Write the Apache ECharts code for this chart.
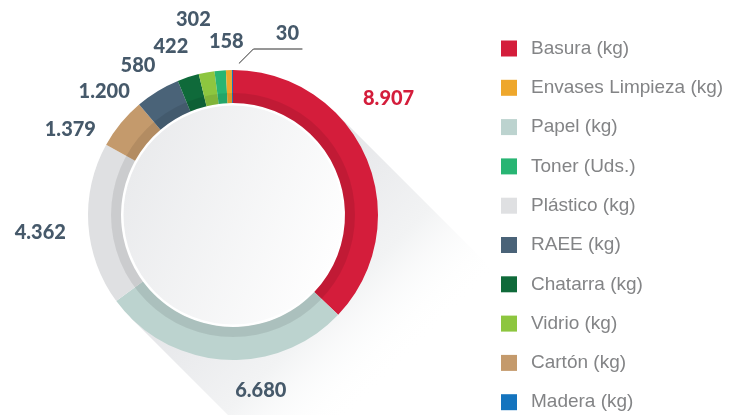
<!DOCTYPE html>
<html>
<head>
<meta charset="utf-8">
<script src="https://cdn.jsdelivr.net/npm/echarts@6/dist/echarts.min.js"></script>
<style>
  html, body { margin: 0; padding: 0; background: #ffffff; }
  #chart { width: 738px; height: 415px; }
</style>
</head>
<body>
<div id="chart"></div>
<script>
// Waste totals, listed clockwise from 12 o'clock
const categories = ['Basura (kg)', 'Papel (kg)', 'Plástico (kg)', 'Cartón (kg)', 'RAEE (kg)',
  'Chatarra (kg)', 'Vidrio (kg)', 'Toner (Uds.)', 'Envases Limpieza (kg)', 'Madera (kg)'];
const values = [8907, 6680, 4362, 1379, 1200, 580, 422, 302, 158, 30];
const colors = ['#d41d3b', '#bcd3cf', '#dfe0e2', '#c49a6c', '#4a6378',
  '#0f6a3a', '#8dc63f', '#28b573', '#eea72c', '#1474be'];
// Legend reading order
const legendOrder = ['Basura (kg)', 'Envases Limpieza (kg)', 'Papel (kg)', 'Toner (Uds.)', 'Plástico (kg)',
  'RAEE (kg)', 'Chatarra (kg)', 'Vidrio (kg)', 'Cartón (kg)', 'Madera (kg)'];

// Ring geometry
const CENTER = [233, 215];
const R_OUT = 145, R_IN = 112, R_BAND = 122, R_DISK = 111;

// Label nudges (px) from the default outside anchor
const labelOffsets = [[4, -51], [38, 11], [-28, 7], [-35, 19], [-43, 17],
  [-44, 7], [-32, -6], [-25, -31], [-2, -9], [0, 0]];
const VALUE_COLOR = '#46596a';

function thousands(v) {
  return String(v).replace(/\B(?=(\d{3})+(?!\d))/g, '.');
}

const ringData = categories.map(function (name, i) {
  const item = { name: name, value: values[i], itemStyle: { color: colors[i] } };
  if (i === 0) item.label = { color: colors[0] };
  if (i === categories.length - 1) {
    item.labelLine = { show: true, length: 20, length2: 20, lineStyle: { color: '#2e2e2e', width: 1 } };
  }
  return item;
});

const s2 = Math.SQRT2;
const k = R_OUT / s2;
const L = 255 / s2;
const G = 225 / s2;

const chart = echarts.init(document.getElementById('chart'), null, { renderer: 'canvas' });
chart.setOption({
  backgroundColor: '#ffffff',
  animation: false,
  graphic: [{
    // long diagonal shadow behind the ring
    type: 'polygon',
    silent: true,
    z: 0,
    shape: {
      points: [
        [CENTER[0] + k, CENTER[1] - k],
        [CENTER[0] + k + L, CENTER[1] - k + L],
        [CENTER[0] - k + L, CENTER[1] + k + L],
        [CENTER[0] - k, CENTER[1] + k]
      ]
    },
    style: {
      fill: {
        type: 'linear', global: true,
        x: CENTER[0], y: CENTER[1], x2: CENTER[0] + G, y2: CENTER[1] + G,
        colorStops: [
          { offset: 0, color: '#e3e4e7' },
          { offset: 0.6, color: '#f2f3f4' },
          { offset: 1, color: 'rgba(255,255,255,0)' }
        ]
      }
    }
  }, {
    // small marker where the leader line leaves the ring
    type: 'circle',
    silent: true,
    z: 10,
    shape: { cx: CENTER[0] + 3.5, cy: CENTER[1] - R_OUT - 4, r: 3.5 },
    style: { fill: '#ffffff' }
  }],
  legend: {
    data: legendOrder,
    orient: 'vertical',
    left: 501,
    top: 39,
    padding: 0,
    itemWidth: 16,
    itemHeight: 16,
    itemGap: 20.3,
    icon: 'rect',
    selectedMode: false,
    textStyle: {
      fontFamily: 'Liberation Sans, Arial, sans-serif',
      fontSize: 19,
      lineHeight: 19,
      color: '#838486',
      padding: [0, 0, 0, 9]
    }
  },
  series: [
    {
      // inner disc
      type: 'pie',
      silent: true,
      z: 1,
      center: CENTER,
      radius: [0, R_DISK],
      label: { show: false },
      labelLine: { show: false },
      emphasis: { disabled: true },
      data: [{
        value: 1, name: 'disco',
        itemStyle: {
          color: new echarts.graphic.LinearGradient(0, 0.3, 1, 0.7, [
            { offset: 0, color: '#e9eaec' },
            { offset: 1, color: '#ffffff' }
          ]),
          borderColor: '#ffffff',
          borderWidth: 3
        }
      }]
    },
    {
      type: 'pie',
      z: 2,
      center: CENTER,
      radius: [R_IN, R_OUT],
      startAngle: 90,
      clockwise: true,
      avoidLabelOverlap: false,
      emphasis: { disabled: true },
      label: {
        show: true,
        position: 'outside',
        distanceToLabelLine: 0,
        formatter: function (p) { return thousands(p.value); },
        fontFamily: 'Lato, sans-serif',
        fontWeight: 900,
        fontSize: 20,
        color: VALUE_COLOR
      },
      labelLine: { show: false, length: 20, length2: 0 },
      labelLayout: function (p) {
        const i = p.dataIndex;
        if (i === categories.length - 1) {
          const a = CENTER[1] - R_OUT;
          const e = (p.labelLinePoints && p.labelLinePoints[0]) || [CENTER[0], a];
          return {
            x: e[0] + 55, y: e[1] - 36, align: 'center', verticalAlign: 'middle',
            labelLinePoints: [[e[0] + 4, e[1] - 4], [e[0] + 21, e[1] - 21], [e[0] + 70, e[1] - 21]]
          };
        }
        const o = labelOffsets[i];
        return { dx: o[0], dy: o[1], align: 'center', verticalAlign: 'middle' };
      },
      data: ringData
    },
    {
      // darker inner band of the ring
      type: 'pie',
      silent: true,
      z: 3,
      center: CENTER,
      radius: [R_IN, R_BAND],
      label: { show: false },
      labelLine: { show: false },
      emphasis: { disabled: true },
      data: [{ value: 1, name: 'banda', itemStyle: { color: 'rgba(0,0,0,0.085)' } }]
    }
  ]
});
</script>
</body>
</html>
